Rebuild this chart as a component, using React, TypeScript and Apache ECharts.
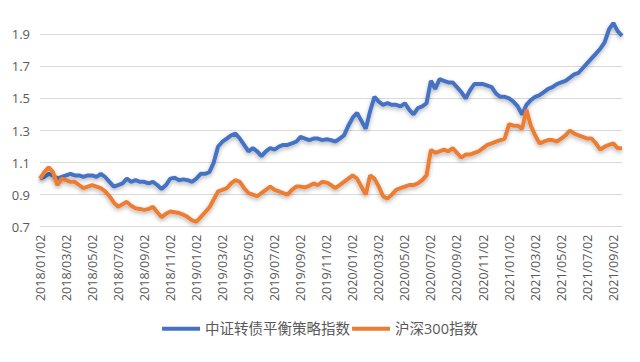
import React, { useEffect, useRef } from "react";
import * as echarts from "echarts";

// Sampling dates: the 02, 12 and 22 of each month, 2018/01/02 .. 2021/09/22
const years = [2018, 2019, 2020, 2021];
const days = ["02", "12", "22"];
const categories: string[] = [];
years.forEach((y) => {
  const lastMonth = y === 2021 ? 9 : 12;
  for (let m = 1; m <= lastMonth; m++) {
    days.forEach((d) => categories.push(`${y}/${String(m).padStart(2, "0")}/${d}`));
  }
});

const seriesNames = ["中证转债平衡策略指数", "沪深300指数"];

const balanceIndex = [
  1.0, 1.01, 1.03, 1.02, 1.0, 1.01, 1.02, 1.03, 1.02, 1.02,
  1.01, 1.02, 1.02, 1.01, 1.03, 1.01, 0.98, 0.95, 0.96, 0.97,
  1.0, 0.98, 0.99, 0.98, 0.98, 0.97, 0.98, 0.96, 0.935, 0.96,
  1.0, 1.005, 0.99, 0.995, 0.99, 0.98, 1.0, 1.03, 1.03, 1.04,
  1.1, 1.2, 1.23, 1.25, 1.27, 1.28, 1.25, 1.21, 1.17, 1.19,
  1.17, 1.14, 1.17, 1.19, 1.18, 1.2, 1.21, 1.21, 1.22, 1.23,
  1.26, 1.25, 1.24, 1.25, 1.25, 1.24, 1.245, 1.24, 1.23, 1.25,
  1.27, 1.33, 1.38, 1.41, 1.36, 1.31, 1.42, 1.51, 1.48, 1.46,
  1.47, 1.46, 1.46, 1.45, 1.47, 1.43, 1.4, 1.44, 1.45, 1.47,
  1.61, 1.56, 1.62, 1.61, 1.6, 1.6, 1.57, 1.54, 1.5, 1.55,
  1.59, 1.59, 1.59, 1.58, 1.57, 1.53, 1.51, 1.51, 1.5, 1.48,
  1.45, 1.4, 1.46, 1.49, 1.51, 1.52, 1.54, 1.56, 1.57, 1.59,
  1.6, 1.61, 1.63, 1.65, 1.66, 1.69, 1.72, 1.75, 1.78, 1.81,
  1.85, 1.93, 1.97, 1.92, 1.89,
];

const csi300Index = [
  1.0, 1.04, 1.07, 1.04, 0.96, 1.0, 0.99, 0.98, 0.98, 0.96,
  0.94, 0.95, 0.96, 0.95, 0.94, 0.92, 0.89, 0.85, 0.825, 0.84,
  0.855, 0.83, 0.815, 0.81, 0.805, 0.81, 0.825, 0.79, 0.76, 0.78,
  0.795, 0.79, 0.785, 0.775, 0.76, 0.74, 0.73, 0.76, 0.79, 0.82,
  0.87, 0.92, 0.93, 0.94, 0.97, 0.99, 0.98, 0.94, 0.91, 0.9,
  0.89, 0.91, 0.93, 0.95, 0.93, 0.92, 0.91, 0.9, 0.93, 0.95,
  0.95, 0.945, 0.955, 0.97, 0.96, 0.98, 0.975, 0.96, 0.94, 0.96,
  0.98, 1.0, 1.02, 1.0, 0.95, 0.9, 1.02, 1.0, 0.95, 0.89,
  0.875, 0.9, 0.93, 0.94, 0.95, 0.96, 0.96, 0.97, 0.99, 1.02,
  1.18, 1.16, 1.17, 1.18, 1.17, 1.19, 1.16, 1.13, 1.15, 1.15,
  1.16, 1.17, 1.19, 1.21, 1.22, 1.23, 1.24, 1.25, 1.34, 1.33,
  1.33, 1.31, 1.43, 1.33, 1.27, 1.22, 1.23, 1.24, 1.24, 1.23,
  1.25, 1.27, 1.3, 1.28, 1.27, 1.26, 1.25, 1.25, 1.22, 1.18,
  1.2, 1.21, 1.22, 1.19, 1.19,
];

const colors = ["#4472C4", "#ED7D31"];
const FONT = "'Open Sans', 'Noto Sans CJK SC', sans-serif";

export default function App() {
  const ref = useRef<HTMLDivElement>(null);
  useEffect(() => {
    if (!ref.current) return;
    const chart = echarts.init(ref.current, undefined, { renderer: "svg" });
    const mkSeries = (name: string, data: number[], color: string) => ({
      name,
      type: "line",
      data,
      symbol: "none",
      clip: false,
      color,
      lineStyle: {
        width: 4,
        color,
        shadowColor: "rgba(0,0,0,0.3)",
        shadowBlur: 4,
        shadowOffsetY: 2,
      },
    });
    chart.setOption({
      animation: false,
      backgroundColor: "#ffffff",
      grid: { left: 40, right: 18, top: 34.3, bottom: 135.3 },
      legend: {
        bottom: 21,
        left: "center",
        icon: "rect",
        itemWidth: 38,
        itemHeight: 4,
        itemGap: 2,
        textStyle: { color: "#595959", fontSize: 14.5, fontFamily: FONT },
        data: seriesNames,
      },
      xAxis: {
        type: "category",
        data: categories,
        boundaryGap: false,
        axisLine: { show: true, lineStyle: { color: "#d9d9d9" } },
        axisTick: { show: false },
        axisLabel: {
          rotate: 90,
          interval: (index: number) => index % 6 === 0,
          color: "#595959",
          fontSize: 12.5,
          fontFamily: FONT,
          margin: 8,
        },
        splitLine: { show: false },
      },
      yAxis: {
        type: "value",
        min: 0.7,
        max: 1.9,
        interval: 0.2,
        axisLine: { show: false },
        axisTick: { show: false },
        axisLabel: {
          color: "#595959",
          fontSize: 13,
          fontFamily: FONT,
          margin: 10,
          formatter: (v: number) => v.toFixed(1),
        },
        splitLine: { lineStyle: { color: "#d9d9d9", width: 1 } },
      },
      series: [
        mkSeries(seriesNames[0], balanceIndex, colors[0]),
        mkSeries(seriesNames[1], csi300Index, colors[1]),
      ],
    });
    return () => chart.dispose();
  }, []);
  return <div ref={ref} style={{ width: 640, height: 362, margin: -8 }} />;
}
